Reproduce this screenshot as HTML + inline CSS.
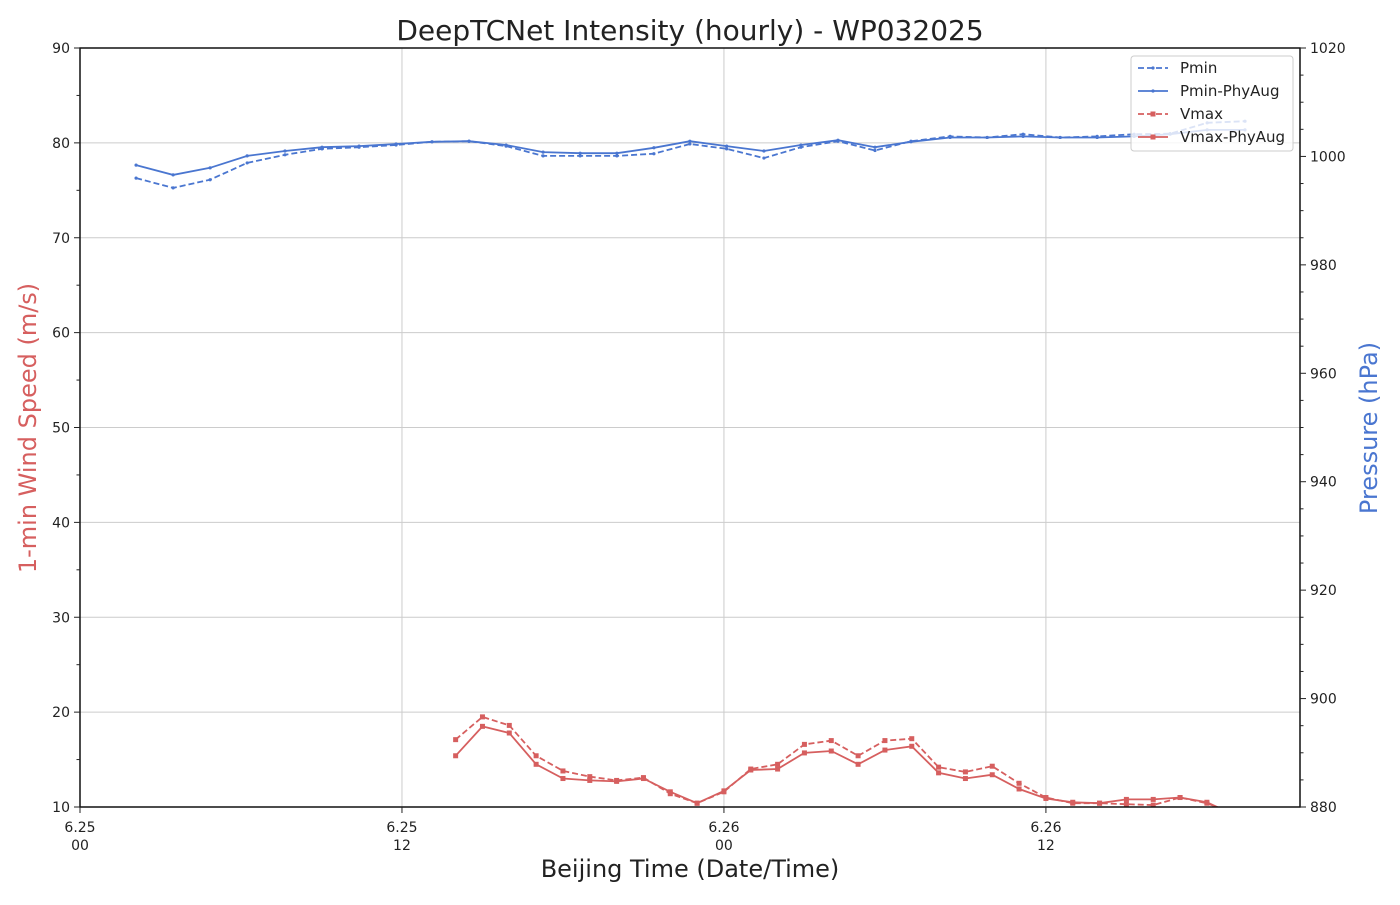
<!DOCTYPE html>
<html><head><meta charset="utf-8"><style>
body{margin:0;background:#fff;}
svg{font-family:"DejaVu Sans","Liberation Sans",sans-serif;}
</style></head><body>
<svg id="c" width="1400" height="900" xmlns="http://www.w3.org/2000/svg"></svg>
<script>
const vHours=[14,15,16,17,18,19,20,21,22,23,24,25,26,27,28,29,30,31,32,33,34,35,36,37,38,39,40,41,42,43];
const vmax=[17.1,19.5,18.6,15.4,13.8,13.2,12.8,13.1,11.4,10.4,11.6,14.0,14.5,16.6,17.0,15.4,17.0,17.2,14.2,13.7,14.3,12.5,11.0,10.4,10.4,10.3,10.2,11.0,10.4,9.3];
const vmaxAug=[15.4,18.5,17.8,14.5,13.0,12.8,12.7,13.0,11.6,10.4,11.7,13.9,14.0,15.7,15.9,14.5,16.0,16.4,13.6,13.0,13.4,11.9,10.9,10.5,10.4,10.8,10.8,11.0,10.5,9.2];
const pHours=[2.09,3.47,4.85,6.23,7.64,9.02,10.4,11.78,13.12,14.5,15.88,17.26,18.64,20.01,21.39,22.73,24.1,25.49,26.87,28.25,29.63,30.97,32.43,33.81,35.15,36.53,37.91,39.29,40.63,42.01,43.42];
const pmin=[996.0,994.2,995.7,998.8,1000.3,1001.4,1001.7,1002.1,1002.7,1002.8,1001.9,1000.1,1000.1,1000.1,1000.5,1002.3,1001.4,999.7,1001.7,1002.8,1001.1,1002.8,1003.7,1003.5,1004.1,1003.5,1003.7,1004.1,1004.2,1006.2,1006.5];
const pminAug=[998.4,996.6,997.9,1000.1,1001.0,1001.7,1001.9,1002.3,1002.7,1002.8,1002.1,1000.8,1000.6,1000.6,1001.6,1002.8,1001.9,1001.0,1002.1,1003.0,1001.7,1002.7,1003.5,1003.5,1003.7,1003.5,1003.5,1003.7,1004.1,1004.9,1004.9];
const xTicks=[0,12,24,36];
const xTickLabels=[["6.25","00"],["6.25","12"],["6.26","00"],["6.26","12"]];
const leftTicks=[10,20,30,40,50,60,70,80,90];
const rightTicks=[880,900,920,940,960,980,1000,1020];

const L=80,R=1300,T=48,B=807;
const X=h=>L+h*(R-L)/45.47;
const YL=v=>B-(v-10)*(B-T)/80;
const YR=p=>B-(p-880)*(B-T)/140;
const svg=document.getElementById('c');
const NS='http://www.w3.org/2000/svg';
function mk(tag,attrs,parent,name){const e=document.createElementNS(NS,tag);for(const k in attrs)e.setAttribute(k,attrs[k]);


(parent||svg).appendChild(e);return e;}
const defs=mk('defs',{},svg,'defs');
const cp=mk('clipPath',{id:'clip'},defs,'clip');
mk('rect',{x:L,y:T,width:R-L,height:B-T},cp,'clip-rect');
const grid=mk('g',{stroke:'#cccccc','stroke-width':1},svg,'grid');
xTicks.forEach(h=>mk('line',{x1:X(h),x2:X(h),y1:T,y2:B},grid,'x-gridline'));
leftTicks.forEach(v=>mk('line',{x1:L,x2:R,y1:YL(v),y2:YL(v)},grid,'y-gridline'));
const plot=mk('g',{'clip-path':'url(#clip)'},svg,'plot-area');
function series(xs,ys,xf,yf,color,dash,marker,name){
  const pts=xs.map((h,i)=>xf(h).toFixed(1)+','+yf(ys[i]).toFixed(1)).join(' ');
  const g=mk('g',{},plot,name);
  mk('polyline',{points:pts,fill:'none',stroke:color,'stroke-width':1.8,'stroke-dasharray':dash||'none'},g,name+'-line');
  xs.forEach((h,i)=>{
    if(marker==='sq')mk('rect',{x:xf(h)-2.5,y:yf(ys[i])-2.5,width:5,height:5,fill:color},g,name+'-point');
    else mk('circle',{cx:xf(h),cy:yf(ys[i]),r:1.6,fill:color},g,name+'-point');
  });
}
const blue='#4a76d0',red='#d65f5f';
series(pHours,pmin,X,YR,blue,'6,3','c','pmin-series');
series(pHours,pminAug,X,YR,blue,null,'c','pmin-phyaug-series');
series(vHours,vmax,X,YL,red,'6,3','sq','vmax-series');
series(vHours,vmaxAug,X,YL,red,null,'sq','vmax-phyaug-series');
mk('rect',{x:L,y:T,width:R-L,height:B-T,fill:'none',stroke:'#111','stroke-width':1.5},svg,'plot-frame');
const ax=mk('g',{fill:'#222','font-size':14},svg,'axes');
xTicks.forEach((h,i)=>{
  mk('line',{x1:X(h),x2:X(h),y1:B,y2:B+6,stroke:'#222'},ax,'x-tick');
  const t=mk('text',{x:X(h),y:B+25,'text-anchor':'middle'},ax,'x-tick-label');t.textContent=xTickLabels[i][0];
  const t2=mk('text',{x:X(h),y:B+43,'text-anchor':'middle'},ax,'x-tick-label');t2.textContent=xTickLabels[i][1];
});
for(let v=10;v<=90;v+=5){const maj=v%10===0;mk('line',{x1:L-(maj?6:3.5),x2:L,y1:YL(v),y2:YL(v),stroke:'#222'},ax,'left-tick');}
leftTicks.forEach(v=>{const t=mk('text',{x:L-10,y:YL(v)+5,'text-anchor':'end'},ax,'left-tick-label');t.textContent=v;});
for(let p=880;p<=1020;p+=5){const maj=p%20===0;mk('line',{x1:R,x2:R+(maj?6:3.5),y1:YR(p),y2:YR(p),stroke:'#222'},ax,'right-tick');}
rightTicks.forEach(p=>{const t=mk('text',{x:R+10,y:YR(p)+5},ax,'right-tick-label');t.textContent=p;});
let t=mk('text',{x:690,y:40,'text-anchor':'middle','font-size':28,fill:'#222'},svg,'chart-title');t.textContent='DeepTCNet Intensity (hourly) - WP032025';
t=mk('text',{x:690,y:877,'text-anchor':'middle','font-size':24,fill:'#222'},svg,'x-axis-title');t.textContent='Beijing Time (Date/Time)';
t=mk('text',{x:0,y:0,'text-anchor':'middle','font-size':24,fill:red,transform:'translate(36,428) rotate(-90)'},svg,'left-axis-title');t.textContent='1-min Wind Speed (m/s)';
t=mk('text',{x:0,y:0,'text-anchor':'middle','font-size':24,fill:blue,transform:'translate(1377,428) rotate(-90)'},svg,'right-axis-title');t.textContent='Pressure (hPa)';
const lg=mk('g',{},svg,'legend');
mk('rect',{x:1131,y:56,width:162,height:95,rx:3,fill:'#fff','fill-opacity':0.8,stroke:'#ccc'},lg,'legend-box');
const ent=[['Pmin',blue,'6,3','c'],['Pmin-PhyAug',blue,null,'c'],['Vmax',red,'6,3','sq'],['Vmax-PhyAug',red,null,'sq']];
ent.forEach((e,i)=>{const y=68+i*23;const g=mk('g',{},lg,'legend-entry');
  mk('line',{x1:1138,x2:1168,y1:y,y2:y,stroke:e[1],'stroke-width':1.8,'stroke-dasharray':e[2]||'none'},g,'legend-line');
  if(e[3]==='sq')mk('rect',{x:1150.5,y:y-2.5,width:5,height:5,fill:e[1]},g,'legend-marker');else mk('circle',{cx:1153,cy:y,r:1.6,fill:e[1]},g,'legend-marker');
  const tt=mk('text',{x:1180,y:y+5,'font-size':15,fill:'#222'},g,'legend-label');tt.textContent=e[0];});
</script>
</body></html>
